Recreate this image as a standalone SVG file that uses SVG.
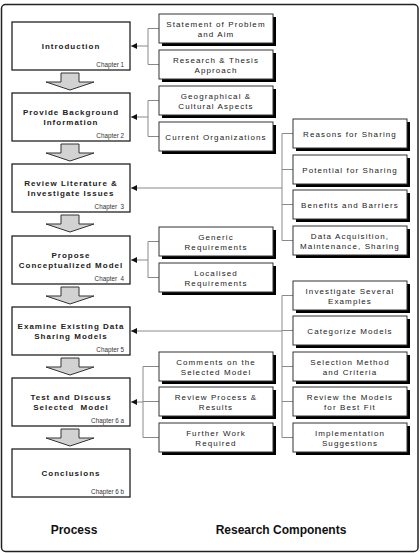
<svg xmlns="http://www.w3.org/2000/svg" width="420" height="553" viewBox="0 0 420 553">
  <style>
    .frame { fill: #fff; stroke: #222; stroke-width: 1.5; }
    .step { fill: #fff; stroke: #222; stroke-width: 1.3; }
    .comp { fill: #fff; stroke: #333; stroke-width: 1; }
    .shadow { fill: #000; }
    .flow { fill: #d2d2d2; stroke: #333; stroke-width: 1; stroke-linejoin: miter; }
    .link { fill: none; stroke: #8a8a8a; stroke-width: 1; }
    .title { font-family: "Liberation Sans", Arial, sans-serif; font-size: 8px; font-weight: bold; letter-spacing: 1px; fill: #222; text-anchor: middle; white-space: pre; }
    .chap { font-family: "Liberation Sans", Arial, sans-serif; font-size: 6.3px; fill: #333; text-anchor: end; white-space: pre; }
    .label { font-family: "Liberation Sans", Arial, sans-serif; font-size: 8px; letter-spacing: 1.1px; fill: #222; text-anchor: middle; }
    .heading { font-family: "Liberation Sans", Arial, sans-serif; font-size: 12px; font-weight: bold; fill: #111; text-anchor: middle; }
  </style>
  <defs>
    <marker id="head" markerUnits="userSpaceOnUse" markerWidth="7" markerHeight="6" refX="6" refY="3" orient="auto">
      <path d="M0,0 L6,3 L0,6 z" fill="#111"/>
    </marker>
    <!-- block arrow between consecutive process steps, origin = top centre -->
    <path id="down" d="M-9,0 H9 V9 H24 L0,17 L-24,9 H-9 Z"/>
  </defs>

  <rect class="frame" x="1.5" y="4.5" width="416.5" height="547" rx="4"/>

  <!-- connectors -->
  <g id="connectors">
    <!-- Introduction -->
    <path class="link" d="M159,28.5 H148 V64.5 H159"/>
    <line class="link" x1="148" y1="46" x2="131" y2="46" marker-end="url(#head)"/>
    <!-- Background -->
    <path class="link" d="M159,100.5 H148 V136.5 H159"/>
    <line class="link" x1="148" y1="117" x2="131" y2="117" marker-end="url(#head)"/>
    <!-- Literature -->
    <path class="link" d="M293,133.5 H282 V240.5 H293 M282,169.5 H293 M282,204.5 H293"/>
    <line class="link" x1="282" y1="188" x2="131" y2="188" marker-end="url(#head)"/>
    <!-- Conceptual model -->
    <path class="link" d="M159,241.5 H148 V277.5 H159"/>
    <line class="link" x1="148" y1="260" x2="131" y2="260" marker-end="url(#head)"/>
    <!-- Existing models -->
    <path class="link" d="M293,295.5 H282 V437.5 H293 M282,330.5 H293 M282,366.5 H293 M282,401.5 H293"/>
    <line class="link" x1="282" y1="331" x2="131" y2="331" marker-end="url(#head)"/>
    <!-- Test and discuss -->
    <path class="link" d="M159,366.5 H143 V437.5 H159 M143,401.5 H159"/>
    <line class="link" x1="143" y1="402" x2="131" y2="402" marker-end="url(#head)"/>

    <!-- flow arrows between steps -->
    <use href="#down" class="flow" x="70" y="73"/>
    <use href="#down" class="flow" x="70" y="144"/>
    <use href="#down" class="flow" x="70" y="215"/>
    <use href="#down" class="flow" x="70" y="287"/>
    <use href="#down" class="flow" x="70" y="358"/>
    <use href="#down" class="flow" x="70" y="429"/>
  </g>

  <!-- process steps -->
  <g id="step-intro">
    <rect class="step" x="12" y="22" width="118" height="48"/>
    <text class="title" x="71" y="49">Introduction</text>
    <text class="chap" x="124" y="67">Chapter 1</text>
  </g>
  <g id="step-background">
    <rect class="step" x="12" y="93" width="118" height="48"/>
    <text class="title" x="71" y="115">Provide Background</text>
    <text class="title" x="71" y="125">Information</text>
    <text class="chap" x="124" y="138">Chapter 2</text>
  </g>
  <g id="step-literature">
    <rect class="step" x="12" y="164" width="118" height="48"/>
    <text class="title" x="71" y="186">Review Literature &amp;</text>
    <text class="title" x="71" y="196">Investigate Issues</text>
    <text class="chap" x="124" y="209">Chapter  3</text>
  </g>
  <g id="step-model">
    <rect class="step" x="12" y="236" width="118" height="48"/>
    <text class="title" x="71" y="258">Propose</text>
    <text class="title" x="71" y="268">Conceptualized Model</text>
    <text class="chap" x="124" y="281">Chapter  4</text>
  </g>
  <g id="step-existing">
    <rect class="step" x="12" y="307" width="118" height="48"/>
    <text class="title" x="71" y="329">Examine Existing Data</text>
    <text class="title" x="71" y="339">Sharing Models</text>
    <text class="chap" x="124" y="352">Chapter 5</text>
  </g>
  <g id="step-test">
    <rect class="step" x="12" y="378" width="118" height="48"/>
    <text class="title" x="71" y="400">Test and Discuss</text>
    <text class="title" x="71" y="410">Selected  Model</text>
    <text class="chap" x="124" y="423">Chapter 6 a</text>
  </g>
  <g id="step-conclusions">
    <rect class="step" x="12" y="449" width="118" height="48"/>
    <text class="title" x="71" y="476">Conclusions</text>
    <text class="chap" x="124" y="494">Chapter 6 b</text>
  </g>

  <!-- research components, first column -->
  <g id="comp-statement">
    <rect class="shadow" x="162" y="17" width="114" height="29"/>
    <rect class="comp" x="159" y="14" width="114" height="29"/>
    <text class="label" x="216" y="26.5">Statement of Problem</text>
    <text class="label" x="216" y="36.5">and Aim</text>
  </g>
  <g id="comp-approach">
    <rect class="shadow" x="162" y="53" width="114" height="29"/>
    <rect class="comp" x="159" y="50" width="114" height="29"/>
    <text class="label" x="216" y="62.5">Research &amp; Thesis</text>
    <text class="label" x="216" y="72.5">Approach</text>
  </g>
  <g id="comp-geography">
    <rect class="shadow" x="162" y="89" width="114" height="29"/>
    <rect class="comp" x="159" y="86" width="114" height="29"/>
    <text class="label" x="216" y="98.5">Geographical &amp;</text>
    <text class="label" x="216" y="108.5">Cultural Aspects</text>
  </g>
  <g id="comp-organizations">
    <rect class="shadow" x="162" y="125" width="114" height="29"/>
    <rect class="comp" x="159" y="122" width="114" height="29"/>
    <text class="label" x="216" y="139.5">Current Organizations</text>
  </g>
  <g id="comp-generic">
    <rect class="shadow" x="162" y="230" width="114" height="29"/>
    <rect class="comp" x="159" y="227" width="114" height="29"/>
    <text class="label" x="216" y="239.5">Generic</text>
    <text class="label" x="216" y="249.5">Requirements</text>
  </g>
  <g id="comp-localised">
    <rect class="shadow" x="162" y="266" width="114" height="29"/>
    <rect class="comp" x="159" y="263" width="114" height="29"/>
    <text class="label" x="216" y="275.5">Localised</text>
    <text class="label" x="216" y="285.5">Requirements</text>
  </g>
  <g id="comp-comments">
    <rect class="shadow" x="162" y="355" width="114" height="29"/>
    <rect class="comp" x="159" y="352" width="114" height="29"/>
    <text class="label" x="216" y="364.5">Comments on the</text>
    <text class="label" x="216" y="374.5">Selected Model</text>
  </g>
  <g id="comp-review-process">
    <rect class="shadow" x="162" y="390" width="114" height="29"/>
    <rect class="comp" x="159" y="387" width="114" height="29"/>
    <text class="label" x="216" y="399.5">Review Process &amp;</text>
    <text class="label" x="216" y="409.5">Results</text>
  </g>
  <g id="comp-further">
    <rect class="shadow" x="162" y="426" width="114" height="29"/>
    <rect class="comp" x="159" y="423" width="114" height="29"/>
    <text class="label" x="216" y="435.5">Further Work</text>
    <text class="label" x="216" y="445.5">Required</text>
  </g>

  <!-- research components, second column -->
  <g id="comp-reasons">
    <rect class="shadow" x="296" y="122" width="114" height="29"/>
    <rect class="comp" x="293" y="119" width="114" height="29"/>
    <text class="label" x="350" y="136.5">Reasons for Sharing</text>
  </g>
  <g id="comp-potential">
    <rect class="shadow" x="296" y="158" width="114" height="29"/>
    <rect class="comp" x="293" y="155" width="114" height="29"/>
    <text class="label" x="350" y="172.5">Potential for Sharing</text>
  </g>
  <g id="comp-benefits">
    <rect class="shadow" x="296" y="193" width="114" height="29"/>
    <rect class="comp" x="293" y="190" width="114" height="29"/>
    <text class="label" x="350" y="207.5">Benefits and Barriers</text>
  </g>
  <g id="comp-acquisition">
    <rect class="shadow" x="296" y="229" width="114" height="29"/>
    <rect class="comp" x="293" y="226" width="114" height="29"/>
    <text class="label" x="350" y="238.5">Data Acquisition,</text>
    <text class="label" x="350" y="248.5">Maintenance, Sharing</text>
  </g>
  <g id="comp-examples">
    <rect class="shadow" x="296" y="284" width="114" height="29"/>
    <rect class="comp" x="293" y="281" width="114" height="29"/>
    <text class="label" x="350" y="293.5">Investigate Several</text>
    <text class="label" x="350" y="303.5">Examples</text>
  </g>
  <g id="comp-categorize">
    <rect class="shadow" x="296" y="319" width="114" height="29"/>
    <rect class="comp" x="293" y="316" width="114" height="29"/>
    <text class="label" x="350" y="333.5">Categorize Models</text>
  </g>
  <g id="comp-selection">
    <rect class="shadow" x="296" y="355" width="114" height="29"/>
    <rect class="comp" x="293" y="352" width="114" height="29"/>
    <text class="label" x="350" y="364.5">Selection Method</text>
    <text class="label" x="350" y="374.5">and Criteria</text>
  </g>
  <g id="comp-best-fit">
    <rect class="shadow" x="296" y="390" width="114" height="29"/>
    <rect class="comp" x="293" y="387" width="114" height="29"/>
    <text class="label" x="350" y="399.5">Review the Models</text>
    <text class="label" x="350" y="409.5">for Best Fit</text>
  </g>
  <g id="comp-implementation">
    <rect class="shadow" x="296" y="426" width="114" height="29"/>
    <rect class="comp" x="293" y="423" width="114" height="29"/>
    <text class="label" x="350" y="435.5">Implementation</text>
    <text class="label" x="350" y="445.5">Suggestions</text>
  </g>

  <!-- column headings -->
  <text class="heading" x="74" y="534">Process</text>
  <text class="heading" x="281" y="534" font-size="11.5">Research Components</text>
</svg>
